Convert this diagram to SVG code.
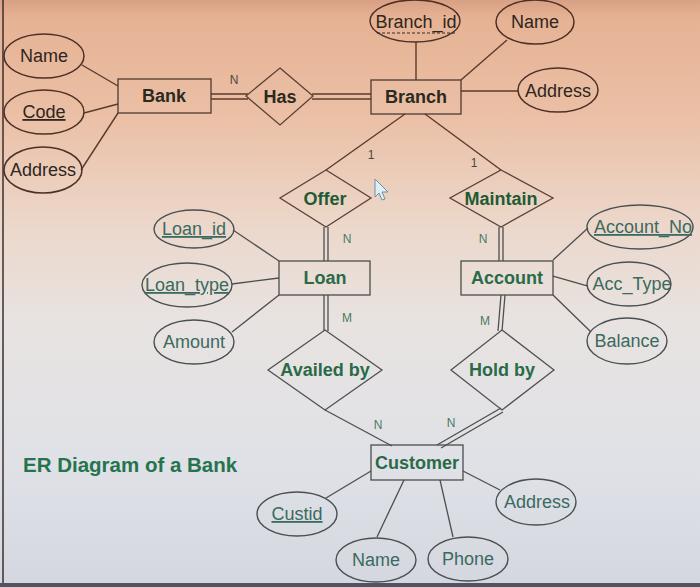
<svg xmlns="http://www.w3.org/2000/svg" width="700" height="587" viewBox="0 0 700 587">
<defs>
<linearGradient id="bg" x1="0" y1="0" x2="0" y2="1">
<stop offset="0" stop-color="#d8a084"/>
<stop offset="0.03" stop-color="#e6b294"/>
<stop offset="0.2" stop-color="#ebc0a6"/>
<stop offset="0.38" stop-color="#ecd7ca"/>
<stop offset="0.55" stop-color="#e8e3e1"/>
<stop offset="0.8" stop-color="#dfe1e7"/>
<stop offset="1" stop-color="#d4d7df"/>
</linearGradient>
<style>
.ent{fill:none;stroke:#4e3a30;stroke-width:1.3}
.entl{fill:none;stroke:#4a4e4c;stroke-width:1.3}
.att{fill:none;stroke:#4e3026;stroke-width:1.5}
.attl{fill:none;stroke:#4a4f52;stroke-width:1.4}
.rel{fill:none;stroke:#5a4036;stroke-width:1.3}
.rell{fill:none;stroke:#4f5250;stroke-width:1.3}
.c{stroke:#5a3a2c;stroke-width:1.4;fill:none}
.cl{stroke:#4c4f4e;stroke-width:1.3;fill:none}
text{font-family:"Liberation Sans",Arial,sans-serif;text-anchor:middle}
.et{font-size:18px;font-weight:bold;fill:#2a2a20}
.etg{font-size:18px;font-weight:bold;fill:#1f5a36}
.etl{font-size:18px;font-weight:bold;fill:#2a6a48}
.at{font-size:18px;fill:#2e2620}
.atl{font-size:18px;fill:#3a6a60}
.u{text-decoration:underline}
.lb{font-size:12px;fill:#4a4a40}
.lbl{font-size:12px;fill:#4a7a62}
</style>
</defs>
<rect width="700" height="587" fill="url(#bg)"/>
<line x1="3" y1="0" x2="3" y2="583" stroke="#3a3030" stroke-width="1.5"/>
<rect x="0" y="583" width="700" height="4" fill="#505660"/>

<g id="connectors">
<line class="c" x1="82" y1="65" x2="118" y2="86"/>
<line class="c" x1="84" y1="113" x2="118" y2="104"/>
<line class="c" x1="81" y1="170" x2="118" y2="113"/>
<line class="c" x1="211" y1="94" x2="248" y2="94"/>
<line class="c" x1="211" y1="99" x2="248" y2="99"/>
<line class="c" x1="312" y1="94" x2="371" y2="94"/>
<line class="c" x1="312" y1="99" x2="371" y2="99"/>
<line class="c" x1="416" y1="42" x2="416" y2="80"/>
<line class="c" x1="507" y1="40" x2="461" y2="80"/>
<line class="c" x1="461" y1="91" x2="518" y2="91"/>
<line class="c" x1="405" y1="114" x2="326" y2="170"/>
<line class="c" x1="425" y1="114" x2="501" y2="170"/>
<line class="cl" x1="324" y1="227" x2="324" y2="261"/>
<line class="cl" x1="328" y1="227" x2="328" y2="261"/>
<line class="cl" x1="499" y1="227" x2="499" y2="261"/>
<line class="cl" x1="503" y1="227" x2="503" y2="261"/>
<line class="cl" x1="233" y1="230" x2="279" y2="261"/>
<line class="cl" x1="232" y1="284" x2="279" y2="278"/>
<line class="cl" x1="232" y1="332" x2="279" y2="295"/>
<line class="cl" x1="553" y1="260" x2="588" y2="228"/>
<line class="cl" x1="553" y1="276" x2="588" y2="286"/>
<line class="cl" x1="553" y1="295" x2="591" y2="332"/>
<line class="cl" x1="324" y1="295" x2="324" y2="331"/>
<line class="cl" x1="328" y1="295" x2="328" y2="331"/>
<line class="cl" x1="501" y1="295" x2="498" y2="331"/>
<line class="cl" x1="505" y1="295" x2="502" y2="331"/>
<line class="cl" x1="325" y1="410" x2="392" y2="446"/>
<line class="cl" x1="501" y1="408" x2="437" y2="445"/>
<line class="cl" x1="503" y1="412" x2="441" y2="448"/>
<line class="cl" x1="371" y1="471" x2="326" y2="498"/>
<line class="cl" x1="404" y1="480" x2="377" y2="537"/>
<line class="cl" x1="440" y1="480" x2="453" y2="537"/>
<line class="cl" x1="463" y1="471" x2="500" y2="490"/>
<text class="lb" x="234" y="84">N</text>
<text class="lb" x="371" y="159">1</text>
<text class="lb" x="474" y="167">1</text>
<text class="lbl" x="347" y="243">N</text>
<text class="lbl" x="483" y="243">N</text>
<text class="lbl" x="347" y="322">M</text>
<text class="lbl" x="485" y="325">M</text>
<text class="lbl" x="378" y="429">N</text>
<text class="lbl" x="451" y="427">N</text>
</g>

<g id="bank"><rect class="ent" x="118" y="79" width="93" height="34"/><text class="et" x="164" y="102">Bank</text></g>
<g id="bank-name"><ellipse class="att" cx="44" cy="56" rx="40" ry="22"/><text class="at" x="44" y="62">Name</text></g>
<g id="bank-code"><ellipse class="att" cx="44" cy="112" rx="40" ry="22"/><text class="at u" x="44" y="118">Code</text></g>
<g id="bank-address"><ellipse class="att" cx="43" cy="170" rx="39" ry="23"/><text class="at" x="43" y="176">Address</text></g>

<g id="has"><polygon class="rel" points="280,68 313,96 280,125 246,96"/><text class="et" x="280" y="103">Has</text></g>

<g id="branch"><rect class="ent" x="371" y="80" width="90" height="34"/><text class="et" x="416" y="103">Branch</text></g>
<g id="branch-id"><ellipse class="att" cx="415" cy="21" rx="45" ry="21"/><text class="at" x="416" y="28">Branch_id</text><line x1="377" y1="33" x2="457" y2="33" stroke="#3a2a22" stroke-width="1.2" stroke-dasharray="3,2"/></g>
<g id="branch-name"><ellipse class="att" cx="535" cy="22" rx="39" ry="22"/><text class="at" x="535" y="28">Name</text></g>
<g id="branch-address"><ellipse class="att" cx="558" cy="90" rx="40" ry="22"/><text class="at" x="558" y="97">Address</text></g>

<g id="offer"><polygon class="rel" points="326,170 371,198 326,227 280,198"/><text class="etg" x="325" y="205">Offer</text></g>
<g id="maintain"><polygon class="rel" points="501,170 553,198 501,227 450,198"/><text class="etg" x="501" y="205">Maintain</text></g>

<g id="loan"><rect class="entl" x="279" y="261" width="91" height="34"/><text class="etl" x="325" y="284">Loan</text></g>
<g id="loan-id"><ellipse class="attl" cx="194" cy="229" rx="40" ry="19"/><text class="atl u" x="194" y="235">Loan_id</text></g>
<g id="loan-type"><ellipse class="attl" cx="187" cy="285" rx="45" ry="22"/><text class="atl u" x="187" y="291">Loan_type</text></g>
<g id="loan-amount"><ellipse class="attl" cx="194" cy="342" rx="40" ry="22"/><text class="atl" x="194" y="348">Amount</text></g>

<g id="account"><rect class="entl" x="461" y="261" width="92" height="34"/><text class="etl" x="507" y="284">Account</text></g>
<g id="account-no"><ellipse class="attl" cx="640" cy="227" rx="53" ry="22"/><text class="atl u" x="643" y="233">Account_No</text></g>
<g id="acc-type"><ellipse class="attl" cx="629" cy="284" rx="42" ry="22"/><text class="atl" x="632" y="290">Acc_Type</text></g>
<g id="balance"><ellipse class="attl" cx="627" cy="341" rx="40" ry="23"/><text class="atl" x="627" y="347">Balance</text></g>

<g id="availed-by"><polygon class="rell" points="325,330 382,370 325,410 268,370"/><text class="etl" x="325" y="376">Availed by</text></g>
<g id="hold-by"><polygon class="rell" points="502,330 554,370 502,410 451,370"/><text class="etl" x="502" y="376">Hold by</text></g>

<g id="customer"><rect class="entl" x="371" y="445" width="92" height="35"/><text class="etl" x="417" y="469">Customer</text></g>
<g id="custid"><ellipse class="attl" cx="297" cy="514" rx="40" ry="22"/><text class="atl u" x="297" y="520">Custid</text></g>
<g id="cust-name"><ellipse class="attl" cx="376" cy="560" rx="40" ry="22"/><text class="atl" x="376" y="566">Name</text></g>
<g id="cust-phone"><ellipse class="attl" cx="468" cy="559" rx="40" ry="22"/><text class="atl" x="468" y="565">Phone</text></g>
<g id="cust-address"><ellipse class="attl" cx="536" cy="502" rx="40" ry="23"/><text class="atl" x="537" y="508">Address</text></g>

<g id="title"><text x="23" y="472" style="text-anchor:start;font-size:20.5px;font-weight:bold;fill:#25744e">ER Diagram of a Bank</text></g>

<g id="cursor"><polygon points="375,179 375,197 379,193 382,200 385,199 382,192 388,192" fill="#dcf0f6" stroke="#7090a0" stroke-width="1"/></g>
</svg>
